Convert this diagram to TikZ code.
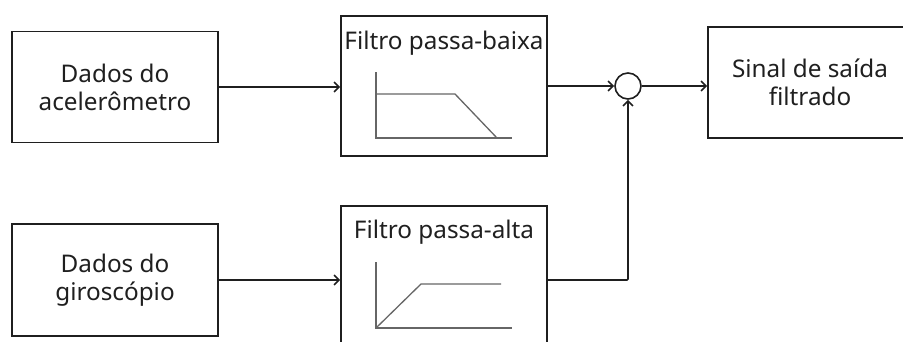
\documentclass[tikz,border=0pt]{standalone}
\usepackage{fontspec}
\setmainfont{Noto Sans}
\usetikzlibrary{arrows.meta}
\begin{document}
\begin{tikzpicture}[x=1pt,y=-1pt,
  box/.style={draw=black!88, line width=1.6pt, inner sep=0pt},
  lbl/.style={font=\fontsize{24.3}{28}\selectfont, align=center, text=black!88},
  plotline/.style={draw=black!60, line width=1.3pt},
  conn/.style={draw=black!88, line width=1.6pt, -{Straight Barb[length=5pt,width=10pt]}}]
\useasboundingbox (0,0) rectangle (903,341);
\clip (0,0) rectangle (903,341);
% input boxes
\node[box, lbl, minimum width=206pt, minimum height=111pt] (acc) at (115,87) {Dados do\\acelerômetro};
\node[box, lbl, minimum width=206pt, minimum height=112pt] (gyro) at (115,280) {Dados do\\giroscópio};
% filter boxes
\node[box, minimum width=206pt, minimum height=140pt] (lpf) at (444,86) {};
\node[lbl] (lpft) at (444,43) {Filtro passa-baixa};
\node[box, minimum width=206pt, minimum height=154pt] (hpf) at (444,283) {};
\node[lbl] (hpft) at (444,232) {Filtro passa-alta};
% filter plots
\draw[plotline] (376,72) -- (376,138) -- (512,138);
\draw[plotline] (376,94) -- (455,94) -- (497,138);
\draw[plotline] (376,262) -- (376,328) -- (512,328);
\draw[plotline] (376,328) -- (421,284) -- (501,284);
% summing junction
\node[draw=black!88, line width=1.6pt, circle, minimum size=26pt, inner sep=0pt] (sum) at (628,86) {};
% output
\node[box, lbl, minimum width=204pt, minimum height=111pt] (out) at (810,82.5) {Sinal de saída\\filtrado};
% connectors
\draw[conn] (acc.east) -- (acc.east -| lpf.west);
\draw[conn] (lpf.east) -- (sum.west);
\draw[conn] (sum.east) -- (sum.east -| out.west);
\draw[conn] (gyro.east) -- (gyro.east -| hpf.west);
\draw[conn, rounded corners=1pt] (gyro.east -| hpf.east) -| (sum.south);
\end{tikzpicture}
\end{document}
